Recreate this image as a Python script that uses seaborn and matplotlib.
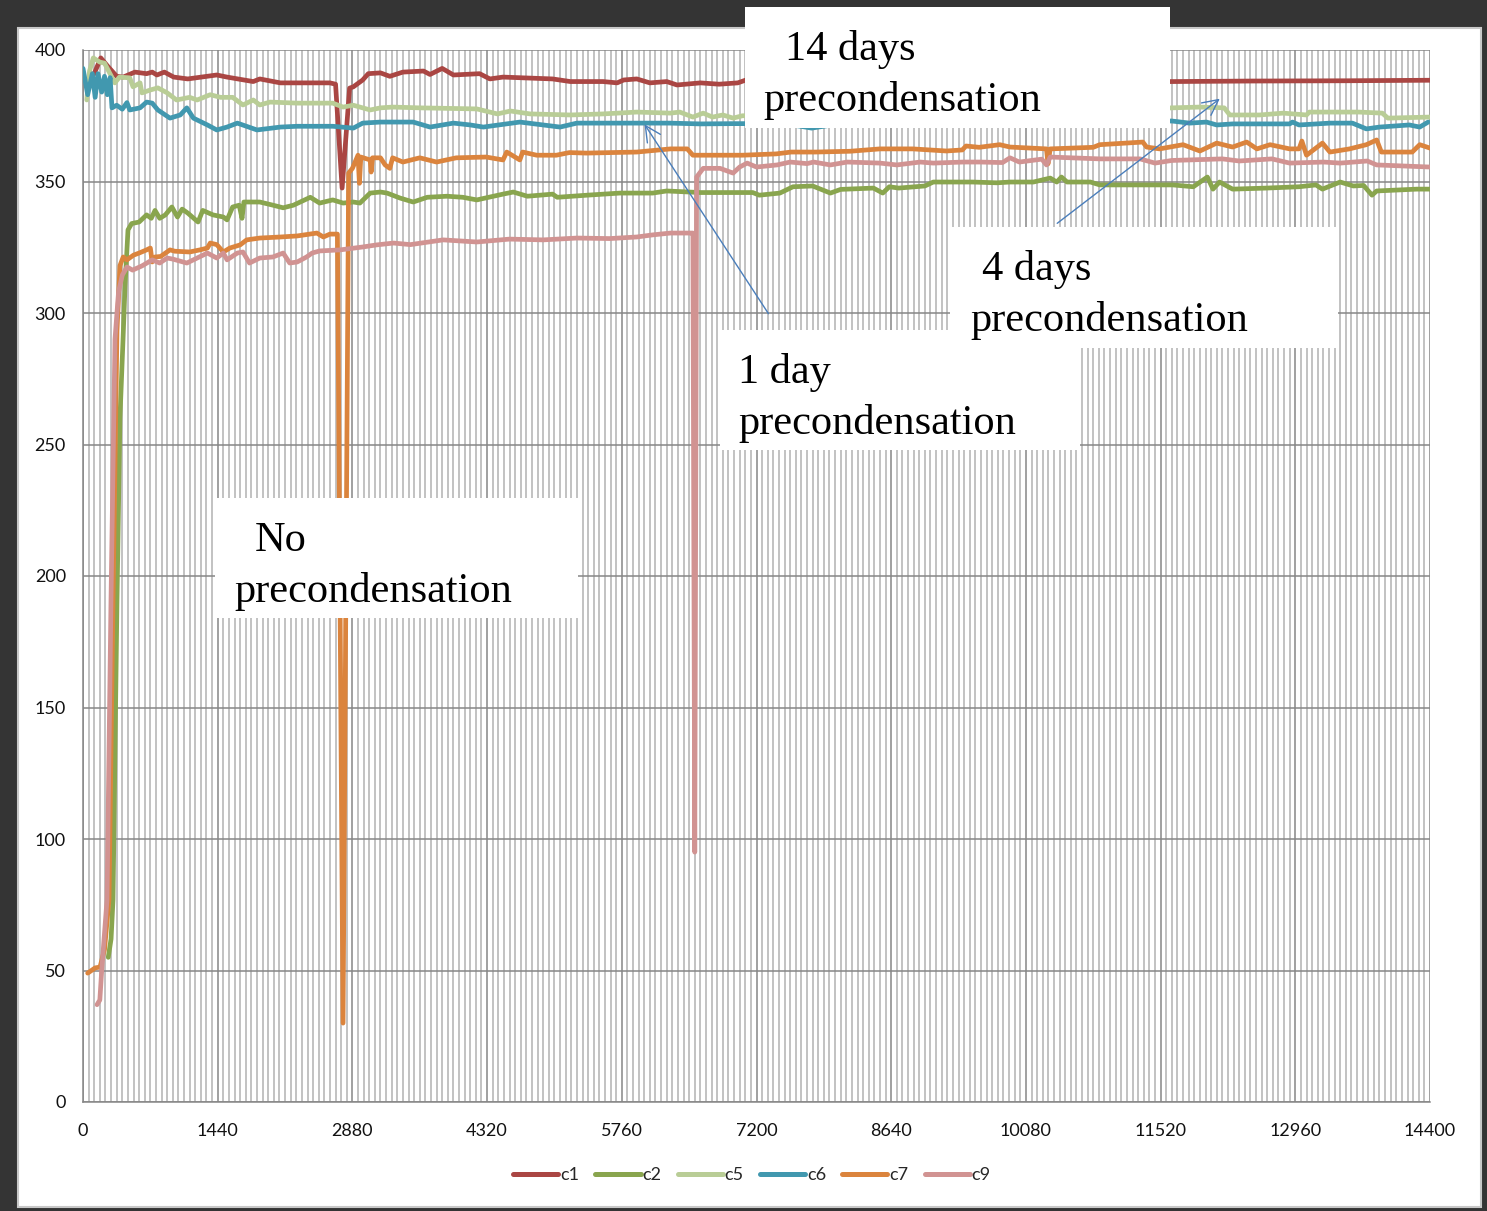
import numpy as np
import pandas as pd
import seaborn as sns
import matplotlib
matplotlib.use("Agg")
import matplotlib.pyplot as plt
from matplotlib.patches import Rectangle, FancyArrowPatch
from matplotlib.lines import Line2D
from matplotlib.ticker import MultipleLocator

# ---- measured series: (time in minutes, value) ----
c1 = [(60, 389), (120, 391), (190, 397), (260, 394), (360, 390), (430, 389.7), (555, 391.6), (680, 391),
      (740, 391.6), (790, 390.5), (870, 391.6), (970, 389.7), (1120, 389), (1430, 390.5), (1540, 389.7),
      (1820, 388), (1890, 389), (2110, 387.5), (2400, 387.5), (2640, 387.5), (2700, 387), (2770, 347.5),
      (2850, 385.5), (2890, 386), (2990, 388.6), (3050, 391), (3180, 391.3), (3280, 390), (3420, 391.6),
      (3640, 392), (3710, 390.7), (3840, 393), (3960, 390.5), (4240, 391), (4350, 389), (4490, 389.7),
      (5020, 389), (5210, 388), (5560, 388), (5710, 387.5), (5780, 388.6), (5920, 389), (6060, 387.5),
      (6240, 388), (6350, 386.7), (6600, 387.5), (6800, 387), (7000, 387.5), (7080, 388.5), (8000, 388),
      (9000, 388), (10000, 388), (11000, 388), (11640, 388), (12500, 388.2), (13500, 388.3), (14400, 388.5)]

c2 = [(270, 55), (300, 62), (321, 77), (363, 190), (395, 260), (428, 290), (449, 310), (481, 331.6),
      (520, 334), (600, 334.6), (680, 337.3), (730, 336), (770, 339), (820, 336), (880, 337.3),
      (950, 340.3), (1010, 336.5), (1060, 339.5), (1120, 338), (1230, 334.6), (1280, 339), (1390, 337.3),
      (1500, 336.5), (1540, 335.4), (1600, 340.3), (1670, 341), (1700, 336), (1720, 342.2), (1890, 342.2),
      (2030, 341), (2140, 340), (2250, 341), (2430, 344), (2530, 341.8), (2670, 343), (2780, 341.8),
      (2890, 342.2), (2960, 341.8), (3070, 345.6), (3180, 346), (3250, 345.6), (3390, 343.7),
      (3530, 342.2), (3680, 344), (3890, 344.4), (4060, 344), (4210, 343), (4490, 345.2), (4600, 346),
      (4750, 344.4), (5020, 345.2), (5070, 344), (5390, 344.8), (5740, 345.6), (6090, 345.6),
      (6240, 346.4), (6600, 345.8), (7160, 345.8), (7230, 344.8), (7450, 345.6), (7590, 348),
      (7800, 348.3), (7990, 345.6), (8100, 347), (8450, 347.5), (8550, 345.6), (8620, 348), (8720, 347.5),
      (9000, 348.3), (9090, 349.8), (9510, 349.8), (9770, 349.5), (9910, 349.8), (10160, 349.8),
      (10340, 351.3), (10410, 349.8), (10460, 351.7), (10520, 349.8), (10770, 349.8), (10870, 348.7),
      (11400, 348.7), (11650, 348.7), (11870, 348), (12020, 351.7), (12080, 347.1), (12150, 349.8),
      (12290, 347.1), (12650, 347.5), (13000, 348), (13180, 348.7), (13250, 347.1), (13440, 349.8),
      (13580, 348.3), (13690, 348.5), (13780, 344.8), (13830, 346.4), (14260, 347.1), (14400, 347.1)]

c5 = [(40, 381), (70, 392), (110, 397), (180, 395.4), (230, 395), (340, 387.5), (390, 389.7), (500, 389.4),
      (535, 386), (610, 387.5), (630, 383.7), (720, 384.8), (800, 385.6), (900, 383.7), (1000, 381),
      (1140, 382), (1220, 381), (1360, 383), (1470, 382), (1600, 382), (1710, 379.1), (1820, 381),
      (1890, 379.1), (2000, 380.2), (2290, 379.8), (2670, 379.8), (2780, 378.3), (2890, 379),
      (3070, 377.2), (3180, 378), (3310, 378.3), (3600, 378), (4210, 377.6), (4430, 375.7), (4570, 376.8),
      (4780, 375.7), (5210, 375.3), (5560, 375.7), (5920, 376.4), (6280, 376), (6380, 376.4),
      (6520, 374.5), (6630, 376), (6730, 374.5), (6840, 375.3), (6950, 374.1), (7050, 375), (8000, 375),
      (9000, 376), (10000, 376), (11000, 377), (11640, 378), (11940, 378.3), (12200, 378), (12260, 375.3),
      (12580, 375.3), (12830, 376), (13080, 375.3), (13110, 376.4), (13360, 376.4), (13640, 376.4),
      (13890, 376), (13950, 374.1), (14400, 374.5)]

c6 = [(0, 393), (50, 383), (100, 391), (130, 382), (160, 391), (200, 384), (230, 390), (260, 383),
      (290, 389.5), (310, 378), (360, 379), (420, 377.5), (470, 380), (500, 377.2), (610, 378),
      (680, 380.2), (740, 379.8), (800, 377.2), (930, 374.1), (1040, 375.3), (1110, 378), (1180, 374.1),
      (1330, 371.5), (1430, 369.6), (1540, 370.7), (1650, 372.2), (1860, 369.6), (2110, 370.7),
      (2290, 371), (2670, 371), (2890, 370.3), (2990, 372.2), (3180, 372.6), (3280, 372.6), (3530, 372.6),
      (3710, 370.7), (3960, 372.2), (4140, 371.5), (4280, 370.7), (4670, 372.6), (5100, 370.7),
      (5280, 372.2), (5920, 372.2), (6270, 372.2), (6600, 371.9), (6950, 372), (7050, 372), (7500, 372),
      (7790, 370.3), (8100, 372), (9000, 372), (10000, 372.5), (11000, 373), (11640, 373), (11830, 372.2),
      (12010, 372.6), (12120, 371.5), (12290, 371.9), (12900, 371.9), (12930, 372.6), (13000, 371.5),
      (13330, 372.2), (13570, 372.2), (13720, 370), (13860, 370.7), (14180, 371.5), (14290, 370.7),
      (14380, 372.6)]

c7 = [(50, 49), (130, 51), (182, 51.3), (230, 58), (278, 77), (321, 191), (363, 293), (395, 318),
      (430, 321.3), (470, 320.2), (540, 322), (600, 322.8), (680, 324), (720, 324.7), (740, 319.4),
      (770, 321.3), (830, 321.5), (930, 324), (980, 323.5), (1140, 323.2), (1250, 324), (1330, 324.7),
      (1360, 326.6), (1430, 326), (1500, 323.2), (1570, 324.7), (1680, 325.9), (1750, 327.8),
      (1890, 328.5), (2110, 328.9), (2290, 329.3), (2500, 330.4), (2570, 328.9), (2640, 330), (2720, 330),
      (2780, 30), (2840, 353.2), (2880, 355), (2940, 360), (2955, 349.3), (2970, 359.3), (3070, 358.2),
      (3080, 353.6), (3095, 359), (3180, 359), (3230, 356.3), (3280, 355), (3310, 359), (3420, 357.4),
      (3600, 359), (3780, 357.4), (3990, 359), (4310, 359.3), (4490, 358.2), (4530, 361.2), (4670, 358.2),
      (4700, 361.2), (4850, 360), (5060, 360), (5200, 361), (5380, 360.8), (5920, 361.2), (6280, 362.4),
      (6460, 362.4), (6520, 360), (7050, 360), (7410, 360.5), (7570, 361.2), (7830, 361.2), (8200, 361.5),
      (8520, 362.4), (8870, 362.4), (9230, 361.6), (9400, 362), (9440, 363.5), (9580, 363), (9800, 364),
      (9910, 363.1), (10300, 362.4), (10316, 356.7), (10340, 362.4), (10800, 363), (10870, 364),
      (11330, 365), (11370, 363.1), (11510, 362.4), (11760, 364), (11940, 361.6), (12120, 364.6),
      (12290, 363.1), (12440, 365), (12550, 362.4), (12690, 364), (12900, 362.4), (13000, 362.4),
      (13030, 365.4), (13080, 360), (13250, 364.6), (13330, 361.2), (13540, 362.4), (13720, 364),
      (13830, 365.8), (13880, 361.2), (14210, 361.2), (14290, 364), (14400, 362.7)]

c9 = [(150, 37), (180, 38.8), (200, 50), (257, 77), (299, 190), (342, 290), (380, 308), (420, 314.4),
      (470, 317.5), (530, 316.3), (630, 317.9), (740, 320.2), (820, 319), (900, 320.9), (960, 320.5),
      (1110, 319), (1220, 320.9), (1330, 322.8), (1430, 320.9), (1500, 322.8), (1540, 320.2), (1650, 322.8),
      (1710, 323.2), (1780, 319), (1890, 320.9), (2030, 321.3), (2140, 322.8), (2210, 319), (2290, 319.4),
      (2390, 321.3), (2450, 322.8), (2530, 323.6), (2750, 324), (2990, 325.1), (3140, 325.9),
      (3320, 326.6), (3500, 326), (3850, 327.8), (4210, 327), (4560, 328.1), (4920, 327.8), (5280, 328.5),
      (5630, 328.3), (5920, 328.9), (6090, 329.7), (6280, 330.4), (6490, 330.4), (6520, 330.4), (6540, 95),
      (6560, 351.7), (6630, 355), (6810, 355), (6950, 353.2), (7020, 355.5), (7100, 357), (7200, 355.5),
      (7420, 356.3), (7560, 357.4), (7740, 356.8), (7810, 357.4), (7990, 356.3), (8170, 357.4),
      (8520, 357), (8700, 356.3), (8950, 357.4), (9090, 357), (9410, 357.4), (9590, 357.4), (9830, 357.2),
      (9910, 359), (10010, 357.4), (10250, 358.5), (10300, 356.3), (10340, 359.3), (10870, 358.6),
      (11300, 358.6), (11460, 357), (11640, 358), (11830, 358.2), (12180, 358.6), (12360, 357.8),
      (12710, 358.6), (12900, 357), (13260, 357.4), (13440, 357), (13730, 357.8), (13830, 356.3),
      (14400, 355.5)]

series_names = ["c1", "c2", "c5", "c6", "c7", "c9"]
series_data = [c1, c2, c5, c6, c7, c9]
series_colors = ["#AA4643", "#89A54E", "#B9CD96", "#4198AF", "#DB843D", "#D19392"]

x_ticks = [0, 1440, 2880, 4320, 5760, 7200, 8640, 10080, 11520, 12960, 14400]
y_ticks = [0, 50, 100, 150, 200, 250, 300, 350, 400]

notes = [
    ("14 days", "precondensation"),
    ("4 days", "precondensation"),
    ("1 day", "precondensation"),
    ("No", "precondensation"),
]

frames = [pd.DataFrame(pts, columns=["t", "v"]).assign(series=name)
          for name, pts in zip(series_names, series_data)]
df = pd.concat(frames, ignore_index=True)

sns.set_theme(style="white")
plt.rcParams["font.family"] = ["Lato", "DejaVu Sans"]

W, H = 1487, 1211
fig = plt.figure(figsize=(W / 100, H / 100), dpi=100, facecolor="#343434")


def fx(px):
    return px / W


def fy(py):
    return 1 - py / H


# white panel behind the chart
fig.add_artist(Rectangle((fx(18), fy(1207)), fx(1481) - fx(18), fy(28) - fy(1207),
                         transform=fig.transFigure, facecolor="white", edgecolor="#C8C8C8",
                         linewidth=1.5, zorder=-1))

ax = fig.add_axes([fx(83), fy(1102), fx(1430) - fx(83), fy(50) - fy(1102)])
ax.set_facecolor("none")

sns.lineplot(data=df, x="t", y="v", hue="series", palette=series_colors, hue_order=series_names,
             sort=False, estimator=None, linewidth=3.4, legend=False, ax=ax, zorder=3)
for ln in ax.get_lines():
    ln.set_solid_capstyle("round")
    ln.set_solid_joinstyle("round")

ax.set_xlim(0, 14400)
ax.set_ylim(0, 400)
ax.set_xticks(x_ticks)
ax.set_yticks(y_ticks)
ax.xaxis.set_minor_locator(MultipleLocator(60))
ax.grid(which="minor", axis="x", color="#BDBDBD", linewidth=1.3, zorder=0)
ax.grid(which="major", axis="both", color="#868686", linewidth=1.1, zorder=0)
ax.set_axisbelow(True)
ax.set_xlabel("")
ax.set_ylabel("")
for side in ["top", "right"]:
    ax.spines[side].set_visible(False)
for side in ["left", "bottom"]:
    ax.spines[side].set_color("#868686")
    ax.spines[side].set_linewidth(1.1)
ax.tick_params(axis="both", which="major", direction="out", length=4.3, width=1, color="#868686",
               labelsize=13, labelcolor="#111111")
ax.tick_params(axis="y", pad=8)
ax.tick_params(axis="x", pad=11)
ax.tick_params(which="minor", length=0)

# legend
handles = [Line2D([0], [0], color=c, lw=3.6, solid_capstyle="round") for c in series_colors]
fig.legend(handles, series_names, loc="center", bbox_to_anchor=(fx(752), fy(1175)), ncol=6,
           frameon=False, fontsize=13, handlelength=2.5, handletextpad=0.1, columnspacing=0.9)

# annotation boxes
boxes = [(745, 7, 1170, 128), (950, 227, 1338, 348), (720, 330, 1080, 450), (215, 498, 578, 618)]
line1_pos = [(785, 60), (982, 280), (738, 383), (255, 551)]
line2_pos = [(763, 111), (970, 331), (738, 434), (234, 602)]
for (x0, y0, x1, y1) in boxes:
    fig.add_artist(Rectangle((fx(x0), fy(y1)), fx(x1) - fx(x0), fy(y0) - fy(y1),
                             transform=fig.transFigure, facecolor="white", edgecolor="none", zorder=5))
for (l1, l2), p1, p2 in zip(notes, line1_pos, line2_pos):
    fig.text(fx(p1[0]), fy(p1[1]), l1, family="Liberation Serif", fontsize=30.5, va="baseline",
             ha="left", color="black", zorder=6)
    fig.text(fx(p2[0]), fy(p2[1]), l2, family="Liberation Serif", fontsize=30.5, va="baseline",
             ha="left", color="black", zorder=6)

# arrows pointing to the curves
for tail, head in [((770, 316), (643, 122)), ((1055, 225), (1222, 97))]:
    fig.add_artist(FancyArrowPatch((fx(tail[0]), fy(tail[1])), (fx(head[0]), fy(head[1])),
                                   transform=fig.transFigure, arrowstyle="->,head_length=0.8,head_width=0.4",
                                   mutation_scale=14, color="#4A7EBB", linewidth=1.0, zorder=7))

fig.savefig("out.png", dpi=100, facecolor=fig.get_facecolor())
